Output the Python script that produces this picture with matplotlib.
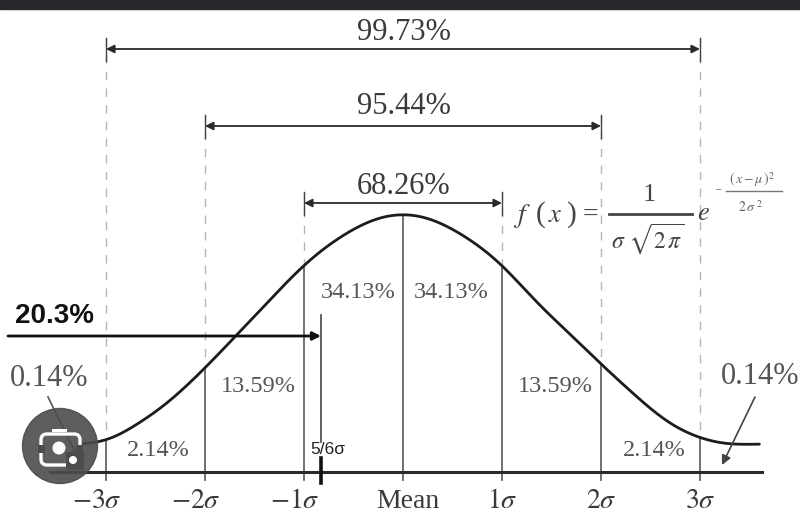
import numpy as np
import matplotlib
matplotlib.use("Agg")
import matplotlib.pyplot as plt
from matplotlib.patches import Rectangle, FancyBboxPatch

plt.rcParams['font.family'] = ['Liberation Serif', 'DejaVu Serif']
plt.rcParams['mathtext.fontset'] = 'stix'

sigma_positions = [-3, -2, -1, 0, 1, 2, 3]
tick_labels = [r'$-3\sigma$', r'$-2\sigma$', r'$-1\sigma$', 'Mean', r'$1\sigma$', r'$2\sigma$', r'$3\sigma$']
curve_x = [-3.26, -3.0, -2.73, -2.38, -2.0, -1.68, -1.34, -1.0, -0.54, -0.25, 0.0, 0.25, 0.54, 1.0, 1.33, 1.79, 2.0, 2.32, 2.67, 3.0, 3.27, 3.6]
curve_y = [0.373, 0.413, 0.60, 0.92, 1.387, 1.827, 2.30, 2.76, 3.21, 3.39, 3.44, 3.39, 3.21, 2.76, 2.29, 1.71, 1.44, 1.053, 0.667, 0.453, 0.373, 0.373]
span_labels = ['68.26%', '95.44%', '99.73%']
span_halfwidths = [1, 2, 3]
span_y_px = [203, 126, 49]
span_label_y_px = [186, 106, 33]
band_labels = ['34.13%', '34.13%', '13.59%', '13.59%', '2.14%', '2.14%']

fig = plt.figure(figsize=(8, 5.16), dpi=100, facecolor='#ffffff')
ax = fig.add_axes([0, 0, 1, 1])
ax.set_xlim(-403/99, (800-403)/99)
ax.set_ylim(-44/75.0, (516-44)/75.0)
ax.axis('off')

def py(p):
    return (472 - p) / 75.0
def px(p):
    return (p - 403) / 99.0

def hermite(xk, yk, x):
    xk = np.asarray(xk); yk = np.asarray(yk)
    m = np.gradient(yk, xk)
    i = np.clip(np.searchsorted(xk, x) - 1, 0, len(xk) - 2)
    h = xk[i+1] - xk[i]
    t = (x - xk[i]) / h
    return ((2*t**3 - 3*t**2 + 1)*yk[i] + (t**3 - 2*t**2 + t)*h*m[i]
            + (-2*t**3 + 3*t**2)*yk[i+1] + (t**3 - t**2)*h*m[i+1])

ax.add_patch(Rectangle((px(0), py(9)), 800/99, 9/75, color='#26282b', zorder=5))

fine = np.linspace(curve_x[0], curve_x[-1], 700)
n = 41
k = np.ones(n)/n
sm = np.convolve(np.pad(hermite(curve_x, curve_y, fine), n//2, mode='edge'), k, mode='valid')
ax.plot(fine, sm, color='#1c1c1c', lw=2.0, zorder=3, solid_capstyle='round')
ax.plot([px(50), px(762)], [0, 0], color='#2a2a2a', lw=2.2, zorder=3)

tops = [192, 115, 38]
for hw, y, ylab, lab, t in zip(span_halfwidths, span_y_px, span_label_y_px, span_labels, tops):
    for s in (-hw, hw):
        ax.plot([s, s], [py(t), np.interp(s, fine, sm)], color='#b5b5b5', lw=1.0, ls=(0, (6, 6)))
        ax.plot([s, s], [py(t), py(y + 12)], color='#444444', lw=1.0)
    ax.annotate('', xy=(-hw, py(y)), xytext=(hw, py(y)),
                arrowprops=dict(arrowstyle='<|-|>', color='#2a2a2a', lw=1.3, mutation_scale=12, shrinkA=0, shrinkB=0))
    ax.text(px(404), py(ylab), lab, ha='center', va='center', fontsize=22, color='#3a3a3a')

for s, lab in zip(sigma_positions, tick_labels):
    top = np.interp(s, fine, sm)
    ax.plot([s, s], [py(480), top], color='#666666', lw=1.3, zorder=2)
    tx = s - 0.09 if s < 0 else (px(408) if s == 0 else s)
    ax.text(tx, py(501), lab, ha='center', va='center', fontsize=20, color='#3a3a3a')

band_pos = [(358, 292), (451, 292), (258, 386), (555, 386), (158, 450), (654, 450)]
for (x, y), lab in zip(band_pos, band_labels):
    ax.text(px(x), py(y), lab, ha='center', va='center', fontsize=17.5, color='#555555')

ax.text(px(49), py(378), '0.14%', ha='center', va='center', fontsize=22, color='#555555')
ax.text(px(760), py(377), '0.14%', ha='center', va='center', fontsize=22, color='#555555')
ax.annotate('', xy=(px(722), py(465)), xytext=(px(755), py(397)),
            arrowprops=dict(arrowstyle='-|>', color='#444444', lw=1.2, mutation_scale=14, shrinkA=0, shrinkB=0))
ax.plot([px(48), px(78)], [py(397), py(458)], color='#555555', lw=1.2, zorder=2)

ax.text(px(55), py(316), '20.3%', ha='center', va='center', fontsize=20, color='#111111',
        family=['Liberation Sans', 'DejaVu Sans'], fontweight='bold')
ax.annotate('', xy=(px(321), py(336)), xytext=(px(8), py(336)),
            arrowprops=dict(arrowstyle='-|>', color='#111111', lw=2.0, mutation_scale=12, shrinkA=0, shrinkB=0))
ax.plot([px(321)]*2, [py(315), py(442)], color='#555555', lw=1.3)
ax.plot([px(320.5)]*2, [py(458), py(483)], color='#111111', lw=2.6, zorder=4)
ax.text(px(328), py(449), '5/6σ', ha='center', va='center', fontsize=12.5,
        family=['Liberation Sans', 'DejaVu Sans'], color='#222222')

# formula
fc = '#444444'
ax.text(px(522), py(216), r'$f$', ha='center', va='center', fontsize=20, color=fc)
ax.text(px(541), py(215), '(', ha='center', va='center', fontsize=21, color=fc)
ax.text(px(555), py(216), r'$x$', ha='center', va='center', fontsize=19, color=fc)
ax.text(px(572), py(215), ')', ha='center', va='center', fontsize=21, color=fc)
ax.text(px(590), py(215), '=', ha='center', va='center', fontsize=20, color=fc)
ax.plot([px(609), px(692)], [py(214)]*2, color=fc, lw=2.0)
ax.text(px(649), py(195), '1', ha='center', va='center', fontsize=19, color=fc)
ax.text(px(648), py(239), r'$\sigma\ \sqrt{2\,\pi}$', ha='center', va='center', fontsize=17, color=fc)
ax.text(px(703), py(214), r'$e$', ha='center', va='center', fontsize=19, color=fc)
ax.text(px(718), py(191), '−', ha='center', va='center', fontsize=9, color='#777777')
ax.text(px(752), py(180), r'$(\,x-\mu\,)^2$', ha='center', va='center', fontsize=10, color='#666666')
ax.plot([px(726), px(782)], [py(191)]*2, color='#777777', lw=1.0)
ax.text(px(751), py(207), r'$2\,\sigma^{\ 2}$', ha='center', va='center', fontsize=10, color='#666666')

# camera badge
H = 516
badge = plt.Circle((60, H-446), 37.5, transform=None, color='#4c4c4c', alpha=0.9, zorder=6)
ax.add_patch(badge)
cam = FancyBboxPatch((41, H-465), 39, 31, boxstyle='round,pad=0,rounding_size=6', transform=None,
                     fc='none', ec='white', lw=2.4, zorder=7)
ax.add_patch(cam)
ax.add_patch(Rectangle((38, H-453), 7, 8, transform=None, fc='#4c4c4c', ec='none', zorder=8))
ax.add_patch(Rectangle((76, H-453), 7, 8, transform=None, fc='#4c4c4c', ec='none', zorder=8))
ax.add_patch(Rectangle((66, H-470), 18, 18, transform=None, fc='#4c4c4c', ec='none', zorder=8))
ax.add_patch(Rectangle((52, H-432), 15, 3, transform=None, fc='white', ec='none', zorder=8))
ax.add_patch(plt.Circle((59, H-448), 6.5, transform=None, fc='white', ec='none', zorder=9))
ax.add_patch(plt.Circle((73, H-460), 4, transform=None, fc='white', ec='none', zorder=9))

fig.savefig('out.png', dpi=100, facecolor=fig.get_facecolor())
